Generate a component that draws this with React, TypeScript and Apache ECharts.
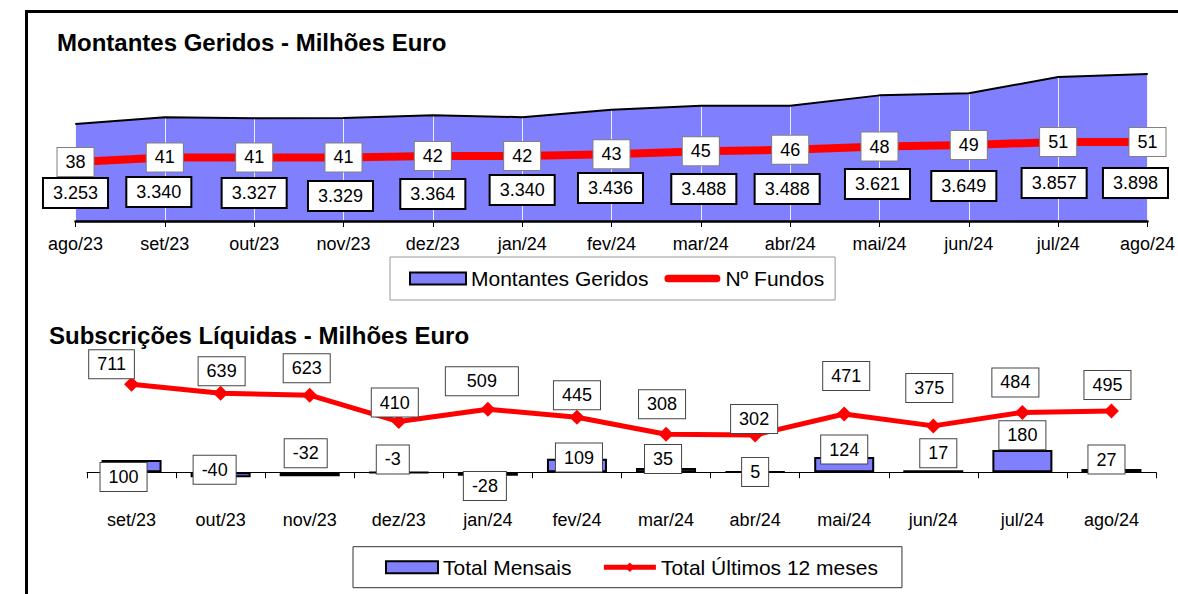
import React, { useEffect, useRef } from 'react';
import * as echarts from 'echarts';

// ---------- data ----------
const topMonths = ['ago/23', 'set/23', 'out/23', 'nov/23', 'dez/23', 'jan/24', 'fev/24', 'mar/24', 'abr/24', 'mai/24', 'jun/24', 'jul/24', 'ago/24'];
const montantesGeridos = [3253, 3340, 3327, 3329, 3364, 3340, 3436, 3488, 3488, 3621, 3649, 3857, 3898];
const numeroFundos = [38, 41, 41, 41, 42, 42, 43, 45, 46, 48, 49, 51, 51];

const bottomMonths = ['set/23', 'out/23', 'nov/23', 'dez/23', 'jan/24', 'fev/24', 'mar/24', 'abr/24', 'mai/24', 'jun/24', 'jul/24', 'ago/24'];
const totalMensais = [100, -40, -32, -3, -28, 109, 35, 5, 124, 17, 180, 27];
const totalUltimos12 = [711, 639, 623, 410, 509, 445, 308, 302, 471, 375, 484, 495];

// ---------- layout / style ----------
const FONT = '"Liberation Sans", Arial, sans-serif';
const TOP = { left: 75.5, top: 66, width: 1075.5, height: 155, min: 2000, max: 4000 };
const BOT = { left: 87, top: 348.6, width: 1069, height: 148.4, min: -200, max: 1000 };
const BLUE = '#8080FF';
const RED = '#FF0000';

// label placement nudges (pixels)
const montLabelY = [193, 192, 193, 196, 194, 190, 188, 189, 189, 184, 186, 183, 183];
const montLabelDx = [0, -6, 0, -3, 0, 0, -1, 3, -3, -2, -5, -4, -12];
const lineLabelNudge = [[-20, -20], [1, -22], [-3, -27], [-4, -19], [-6, -28], [0, -22], [-4, -30], [-1, -16], [2, -38], [-4, -38], [-7, -30], [-4, -26]];
const barLabelNudge = [[-8, 11], [-6, -5], [-4, -21], [-6, -13], [-3, 12], [2, -8], [-3, -11], [0, 0], [0, -15], [5, -18], [0, -26], [-5, -11]];

const yPixTop = (v: number) => TOP.top + ((TOP.max - v) / (TOP.max - TOP.min)) * TOP.height;
const fmtThousands = (v: number) => String(v).replace(/\B(?=(\d{3})+(?!\d))/g, '.');

const boxLabel = (border: string, bw: number, pad: number[]) => ({
  show: true,
  position: 'inside',
  backgroundColor: '#fff',
  borderColor: border,
  borderWidth: bw,
  padding: pad,
  fontSize: 18,
  fontFamily: FONT,
  color: '#000',
});

const ROUND_BAR_ICON = 'path://M4,0 L54,0 A4,4 0 0 1 54,8 L4,8 A4,4 0 0 1 4,0 Z';

export default function App() {
  const ref = useRef<HTMLDivElement>(null);

  useEffect(() => {
    if (!ref.current) return;
    const chart = echarts.init(ref.current, undefined, { renderer: 'svg' });

    const option: any = {
      animation: false,
      backgroundColor: '#fff',
      textStyle: { fontFamily: FONT },
      graphic: [
        {
          type: 'rect',
          silent: true,
          shape: { x: 26.5, y: 11.5, width: 1400, height: 900 },
          style: { fill: 'transparent', stroke: '#000', lineWidth: 3 },
        },
        {
          type: 'text',
          x: 57,
          y: 42,
          style: { text: 'Montantes Geridos - Milhões Euro', font: `bold 24px ${FONT}`, fill: '#000', verticalAlign: 'middle' },
        },
        {
          type: 'text',
          x: 49,
          y: 335,
          style: { text: 'Subscrições Líquidas - Milhões Euro', font: `bold 24px ${FONT}`, fill: '#000', verticalAlign: 'middle' },
        },
      ],
      legend: [
        {
          left: 390,
          top: 257,
          orient: 'horizontal',
          padding: [11, 11, 11, 19],
          itemGap: 16,
          itemWidth: 56,
          itemHeight: 12,
          borderColor: '#999',
          borderWidth: 1,
          textStyle: { fontSize: 21, fontFamily: FONT, color: '#000' },
          data: [
            { name: 'Montantes Geridos', icon: 'rect', itemStyle: { color: BLUE, borderColor: '#000', borderWidth: 2 } },
            { name: 'Nº Fundos', icon: ROUND_BAR_ICON, itemStyle: { color: RED } },
          ],
        },
        {
          left: 353,
          top: 546.7,
          orient: 'horizontal',
          padding: [10, 24, 10, 32],
          itemGap: 30,
          itemWidth: 52,
          itemHeight: 12,
          borderColor: '#333',
          borderWidth: 1,
          textStyle: { fontSize: 21, fontFamily: FONT, color: '#000' },
          data: [
            { name: 'Total Mensais', icon: 'rect', itemStyle: { color: BLUE, borderColor: '#000', borderWidth: 2 } },
            { name: 'Total Últimos 12 meses', lineStyle: { width: 5, color: RED } },
          ],
        },
      ],
      grid: [
        { left: TOP.left, top: TOP.top, width: TOP.width, height: TOP.height, containLabel: false },
        { left: BOT.left, top: BOT.top, width: BOT.width, height: BOT.height, containLabel: false },
      ],
      xAxis: [
        {
          type: 'category',
          gridIndex: 0,
          data: topMonths,
          boundaryGap: false,
          z: 2,
          axisLine: { lineStyle: { color: '#000', width: 2.5 } },
          axisTick: { show: true, length: 6, lineStyle: { color: '#000', width: 1 } },
          splitLine: { show: true, lineStyle: { color: '#ffffff', width: 1, opacity: 0.85 } },
          axisLabel: { interval: 0, margin: 14, fontSize: 18, color: '#000', fontFamily: FONT },
        },
        {
          type: 'category',
          gridIndex: 1,
          data: bottomMonths,
          boundaryGap: true,
          axisLine: { onZero: true, lineStyle: { color: '#000', width: 1 } },
          axisTick: { show: true, length: 6, lineStyle: { color: '#000', width: 1 } },
          splitLine: { show: false },
          axisLabel: { interval: 0, margin: 14, fontSize: 18, color: '#000', fontFamily: FONT },
        },
      ],
      yAxis: [
        { type: 'value', gridIndex: 0, min: TOP.min, max: TOP.max, show: false, splitLine: { show: false } },
        { type: 'value', gridIndex: 0, min: 0, max: 100, show: false, position: 'right', splitLine: { show: false } },
        { type: 'value', gridIndex: 1, min: BOT.min, max: BOT.max, show: false, splitLine: { show: false } },
      ],
      series: [
        {
          type: 'line',
          name: 'Montantes Geridos',
          xAxisIndex: 0,
          yAxisIndex: 0,
          data: montantesGeridos,
          symbol: 'none',
          lineStyle: { width: 0 },
          areaStyle: { color: BLUE, opacity: 1 },
          z: 1,
        },
        {
          type: 'line',
          name: 'Nº Fundos',
          xAxisIndex: 0,
          yAxisIndex: 1,
          data: numeroFundos,
          symbol: 'circle',
          symbolSize: 1,
          itemStyle: { color: RED },
          lineStyle: { color: RED, width: 8 },
          label: boxLabel('#808080', 1, [5, 8]),
          z: 3,
        },
        {
          type: 'line',
          name: 'Montantes Geridos',
          xAxisIndex: 0,
          yAxisIndex: 0,
          data: montantesGeridos.map((v, i) => ({
            value: v,
            label: { offset: [montLabelDx[i], montLabelY[i] - yPixTop(v)] },
          })),
          symbol: 'circle',
          symbolSize: 1,
          itemStyle: { color: '#000' },
          lineStyle: { color: '#000', width: 2 },
          label: { ...boxLabel('#000', 2, [5, 9]), formatter: (p: any) => fmtThousands(p.value) },
          z: 4,
        },
        {
          type: 'bar',
          name: 'Total Mensais',
          xAxisIndex: 1,
          yAxisIndex: 2,
          barWidth: 60,
          data: totalMensais.map((v, i) => ({ value: v, label: { offset: barLabelNudge[i] } })),
          itemStyle: { color: BLUE, borderColor: '#000', borderWidth: 2 },
          label: boxLabel('#444', 1, [5, 8]),
          z: 2,
        },
        {
          type: 'line',
          name: 'Total Últimos 12 meses',
          xAxisIndex: 1,
          yAxisIndex: 2,
          data: totalUltimos12.map((v, i) => ({
            value: v,
            label: i === 4 ? { offset: lineLabelNudge[i], padding: [5, 21] } : { offset: lineLabelNudge[i] },
          })),
          symbol: 'diamond',
          symbolSize: 15,
          itemStyle: { color: RED },
          lineStyle: { color: RED, width: 5 },
          label: boxLabel('#444', 1, [5, 8]),
          z: 3,
        },
      ],
    };

    chart.setOption(option);
    return () => chart.dispose();
  }, []);

  return <div ref={ref} style={{ position: 'absolute', left: 0, top: 0, width: 1178, height: 594 }} />;
}
